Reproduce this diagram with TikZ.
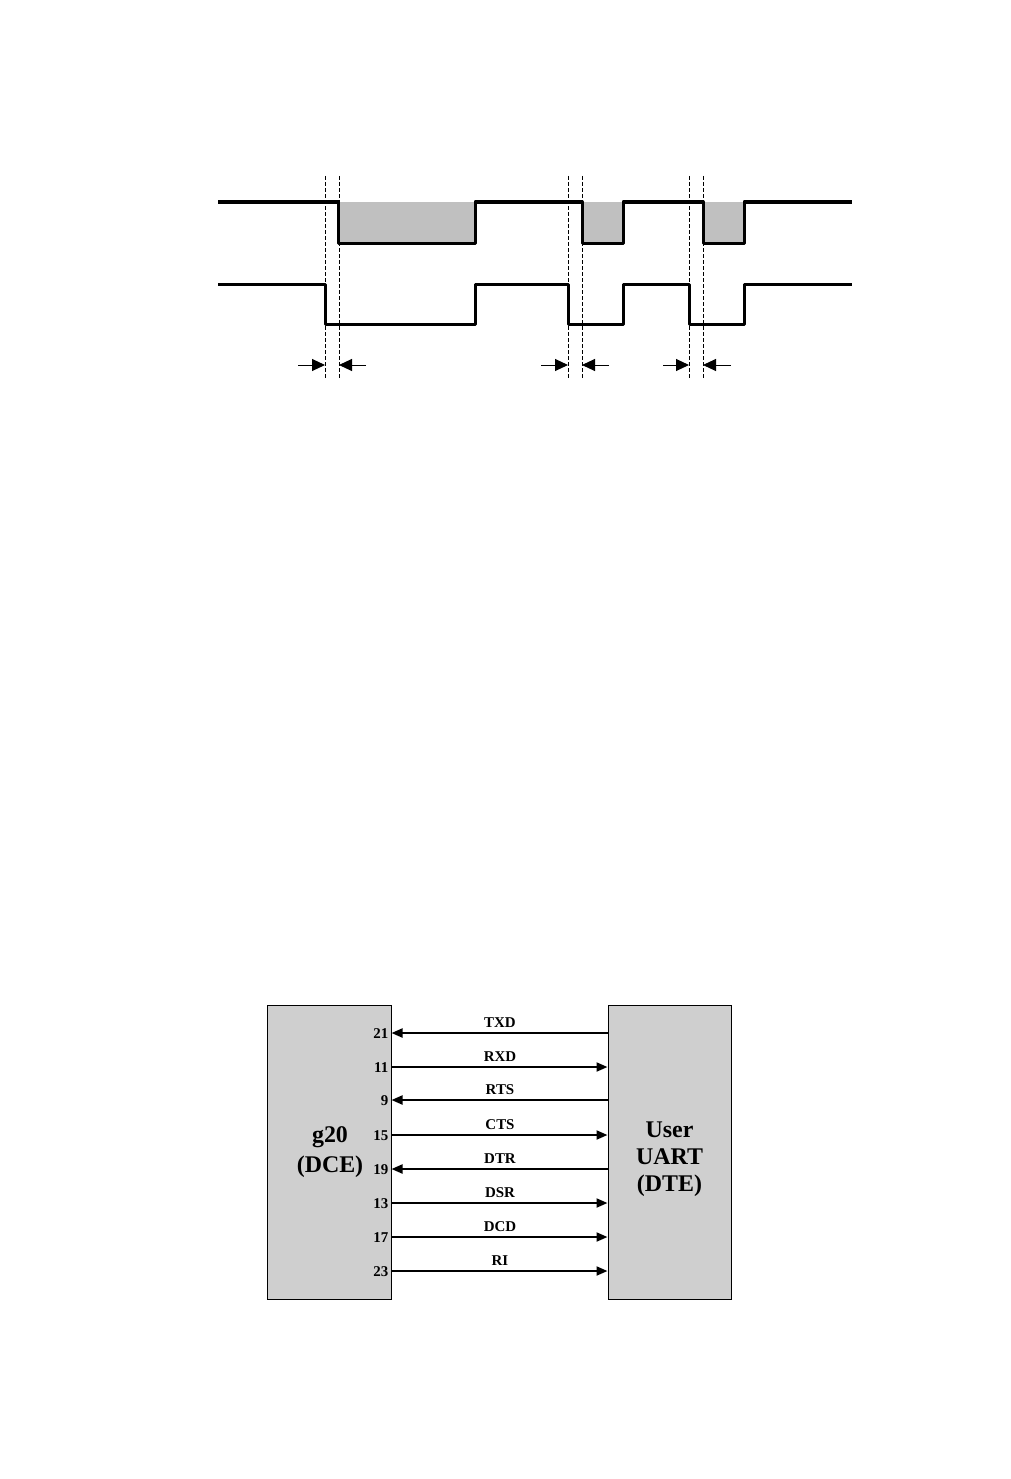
\documentclass[tikz,border=0pt]{standalone}
\usepackage{fontspec}
\setmainfont{Liberation Serif}
\usetikzlibrary{arrows.meta}
\definecolor{pulsegray}{HTML}{C0C0C0}
\definecolor{boxgray}{HTML}{CFCFCF}
\begin{document}
\begin{tikzpicture}[x=1bp,y=-1bp,
  sig/.style={line width=3bp, line join=round},
  guide/.style={line width=0.9bp, dash pattern=on 4bp off 2bp},
  gap/.style={line width=1bp, -{Triangle[length=13bp,width=12bp]}},
  unit/.style={draw, line width=1bp, fill=boxgray, minimum width=124bp, minimum height=294bp, inner sep=0pt},
  wire/.style={line width=2bp},
  tip/.style={-{Triangle[length=11bp,width=9bp]}},
  pinnum/.style={font=\bfseries\fontsize{15}{16}\selectfont, anchor=east, inner sep=0pt},
  siglab/.style={font=\bfseries\fontsize{15}{16}\selectfont, anchor=base, inner sep=0pt},
  big/.style={font=\bfseries\fontsize{24}{30}\selectfont, align=center, inner sep=0pt}
]
\useasboundingbox (0,0) rectangle (1010,1479);

% ---------- timing diagram ----------
\fill[pulsegray] (338,202) rectangle (475,243);
\fill[pulsegray] (582,202) rectangle (623,243);
\fill[pulsegray] (703,202) rectangle (744,243);

\draw[sig] (218,202) -- (338,202) -- (338,243) -- (475,243) -- (475,202)
  -- (582,202) -- (582,243) -- (623,243) -- (623,202)
  -- (703,202) -- (703,243) -- (744,243) -- (744,202) -- (852,202);

\draw[sig] (218,284) -- (325,284) -- (325,324) -- (475,324) -- (475,284)
  -- (568,284) -- (568,324) -- (623,324) -- (623,284)
  -- (689,284) -- (689,324) -- (744,324) -- (744,284) -- (852,284);

\foreach \gx/\nm in {325/ga,339/gb,568/gc,582/gd,689/ge,703/gf}{
  \coordinate (\nm top) at (\gx,176);
  \coordinate (\nm bot) at (\gx,378);
  \coordinate (\nm mid) at (\gx,365);
  \draw[guide] (\nm top) -- (\nm bot);
}
\coordinate (aa) at (298,365);
\coordinate (ab) at (366,365);
\coordinate (ac) at (541,365);
\coordinate (ad) at (609,365);
\coordinate (ae) at (663,365);
\coordinate (af) at (731,365);
\draw[gap] (aa) -- (gamid);
\draw[gap] (ab) -- (gbmid);
\draw[gap] (ac) -- (gcmid);
\draw[gap] (ad) -- (gdmid);
\draw[gap] (ae) -- (gemid);
\draw[gap] (af) -- (gfmid);

% ---------- interface diagram ----------
\node[unit] (dce) at (329,1152) {};
\node[unit, minimum width=123bp] (dte) at (669.5,1152) {};
\node[big] (dcetext) at (330,1152) {g20\\(DCE)};
\node[big, font=\bfseries\fontsize{24}{27}\selectfont] (dtetext) at (669.5,1159) {User\\UART\\(DTE)};

\foreach \yy/\pn/\lb/\dir in {1033/21/TXD/in, 1067/11/RXD/out, 1100/9/RTS/in, 1135/15/CTS/out,
    1169/19/DTR/in, 1203/13/DSR/out, 1237/17/DCD/out, 1271/23/RI/out}{
  \ifnum\pdfstrcmp{\dir}{in}=0
    \draw[wire, tip] (dte.west |- 0,\yy) -- (dce.east |- 0,\yy);
  \else
    \draw[wire, tip] (dce.east |- 0,\yy) -- (dte.west |- 0,\yy);
  \fi
  \node[pinnum] (pin\pn) at (388.5,\yy+0.5) {\pn};
  \node[siglab] (lab\lb) at (500,\yy-6) {\lb};
}
\end{tikzpicture}
\end{document}
